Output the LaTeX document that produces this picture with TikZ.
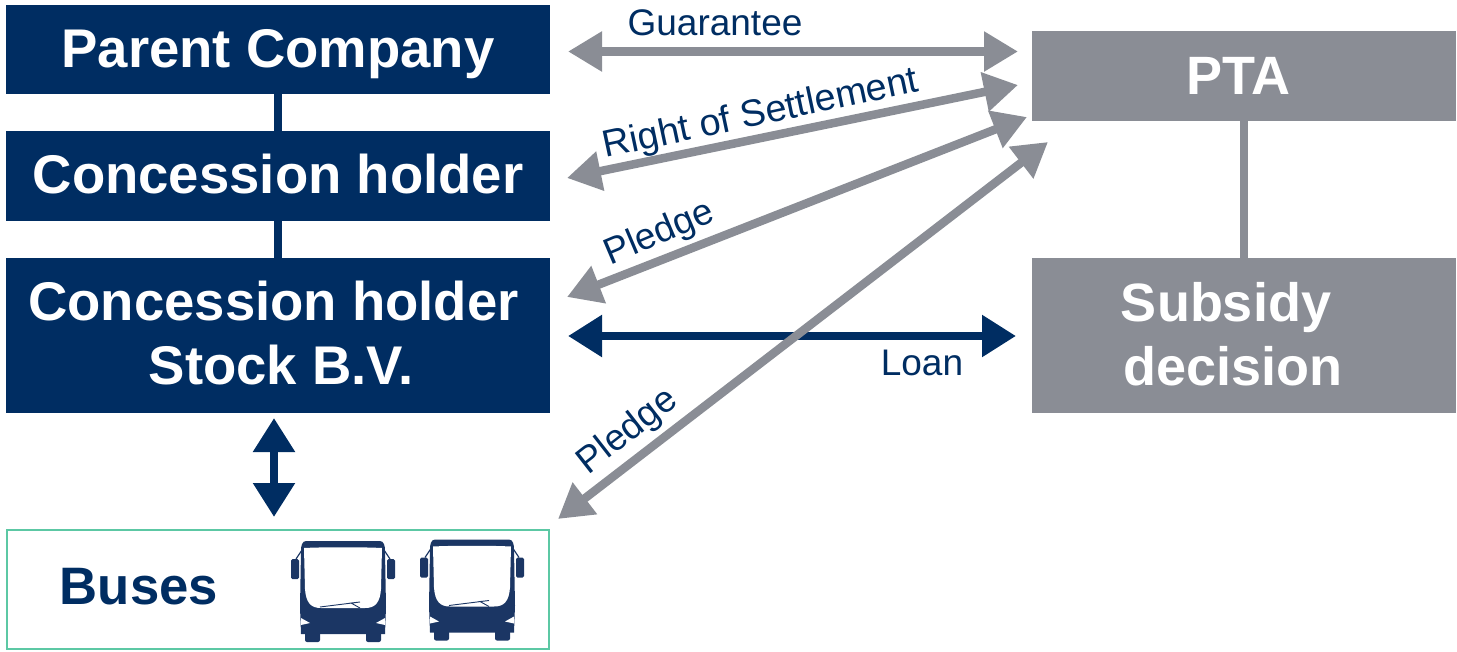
\documentclass[tikz,border=0pt]{standalone}
\usepackage{fontspec}
\setmainfont{Liberation Sans}
\usetikzlibrary{arrows.meta}
\definecolor{navy}{HTML}{002D62}
\definecolor{busnavy}{HTML}{1B3664}
\definecolor{slate}{HTML}{8A8D95}
\definecolor{mint}{HTML}{5CC8A4}
\tikzset{
  navybox/.style={fill=navy,text=white,inner sep=0pt,align=center,font=\fontsize{54.5}{64}\selectfont\bfseries},
  greybox/.style={fill=slate,text=white,inner sep=0pt,align=center,font=\fontsize{54}{64}\selectfont\bfseries},
  tag/.style={text=navy,inner sep=0pt,font=\fontsize{37}{40}\selectfont},
  greyarrow/.style={draw=slate,line width=8.5pt,{Triangle[length=34pt,width=38pt]}-{Triangle[length=34pt,width=38pt]}},
  navyarrow/.style={draw=navy,line width=8.5pt,{Triangle[length=34pt,width=40pt]}-{Triangle[length=34pt,width=40pt]}},
  busfront/.pic={
    % body, mirrors and wheels
    \fill[busnavy] (-37,0) -- (37,0) .. controls (41,0) and (42,5) .. (42,10) -- (43,66) -- (42,93)
      -- (-42,93) -- (-43,66) -- (-42,10) .. controls (-42,5) and (-41,0) .. (-37,0) -- cycle;
    \fill[busnavy,rounded corners=1.5pt] (-52,18) rectangle (-44,38);
    \fill[busnavy,rounded corners=1.5pt] (44,18) rectangle (52,38);
    \fill[busnavy,rounded corners=2pt] (-38,88) rectangle (-23,101);
    \fill[busnavy,rounded corners=2pt] (23,88) rectangle (38,101);
    \draw[busnavy,line width=1.2pt] (-41,9) -- (-47,18);
    \draw[busnavy,line width=1.2pt] (41,9) -- (47,18);
    % windshield
    \fill[white] (-39,7) .. controls (-20,6) and (20,6) .. (39,7) -- (38,48)
      .. controls (37,62) and (32,67) .. (22,67) -- (-22,67) .. controls (-32,67) and (-37,62) .. (-38,48) -- cycle;
    % wiper
    \draw[busnavy,line width=0.9pt] (-23,66) -- (17,61) -- (8,62) -- (17,67);
    % headlights
    \fill[white] (-42,77) -- (-33,82) -- (-42,84) -- cycle;
    \fill[white] (42,77) -- (33,82) -- (42,84) -- cycle;
  }
}
\begin{document}
\begin{tikzpicture}[x=1pt,y=-1pt]
\useasboundingbox (0,0) rectangle (1457,651);

% Boxes on the left.
\node[navybox,text depth=3pt,minimum width=544pt,minimum height=89pt] (parent) at (278,49.5) {Parent Company};
\node[navybox,text depth=4pt,minimum width=544pt,minimum height=90pt] (holder) at (278,176) {Concession holder};
\node[navybox,text depth=5pt,minimum width=544pt,minimum height=155pt] (stock) at (278,335.5) {Concession holder\hspace*{9pt}\\\hspace*{6pt}Stock B.V.};
\node[draw=mint,line width=2pt,minimum width=542pt,minimum height=119pt,inner sep=0pt] (buses) at (278,589.5) {};

% Boxes on the right.
\node[greybox,text depth=1pt,minimum width=424pt,minimum height=90pt] (pta) at (1244,76) {PTA\hspace*{12pt}};
\node[greybox,text depth=4pt,minimum width=424pt,minimum height=155pt] (subsidy) at (1244,335.5) {Subsidy\hspace*{36pt}\\decision\hspace*{22pt}};

% Free ends of the arrows.
\coordinate (guarL) at (568,51.5);
\coordinate (guarR) at (1018,51.5);
\coordinate (rightL) at (567,178);
\coordinate (rightR) at (1018,85);
\coordinate (pledgeL) at (567,297);
\coordinate (pledgeR) at (1027,117);
\coordinate (pledgebusL) at (558,519);
\coordinate (pledgebusR) at (1048,142);
\coordinate (loanL) at (568,336);
\coordinate (loanR) at (1016,336);
\coordinate (busT) at (274,418);
\coordinate (busB) at (274,517);

% Straight links between boxes.
\draw[navy,line width=8pt] (parent) -- (holder);
\draw[navy,line width=8pt] (holder) -- (stock);
\draw[slate,line width=8pt] (pta) -- (subsidy);

% Arrows.
\draw[navyarrow] (loanL) -- (loanR);
\draw[navyarrow] (busT) -- (busB);
\draw[greyarrow] (guarL) -- (guarR);
\draw[greyarrow] (rightL) -- (rightR);
\draw[greyarrow] (pledgeL) -- (pledgeR);
\draw[greyarrow] (pledgebusL) -- (pledgebusR);

% Labels.
\node[tag] (guarlabel) at (715,23) {Guarantee};
\node[tag,font=\fontsize{37.8}{40}\selectfont,rotate=12] (rightlabel) at (761,115) {Right of Settlement};
\node[tag,rotate=23] (pledgelabel) at (660,234) {Pledge};
\node[tag,rotate=38] (pledgebuslabel) at (628,432) {Pledge};
\node[tag] (loanlabel) at (922,363) {Loan};

% Buses.
\node[text=navy,inner sep=0pt,font=\fontsize{52.7}{60}\selectfont\bfseries] (buslabel) at (139,587) {Buses};
\pic at (343,541) {busfront};
\pic at (472,539.5) {busfront};

\end{tikzpicture}
\end{document}
